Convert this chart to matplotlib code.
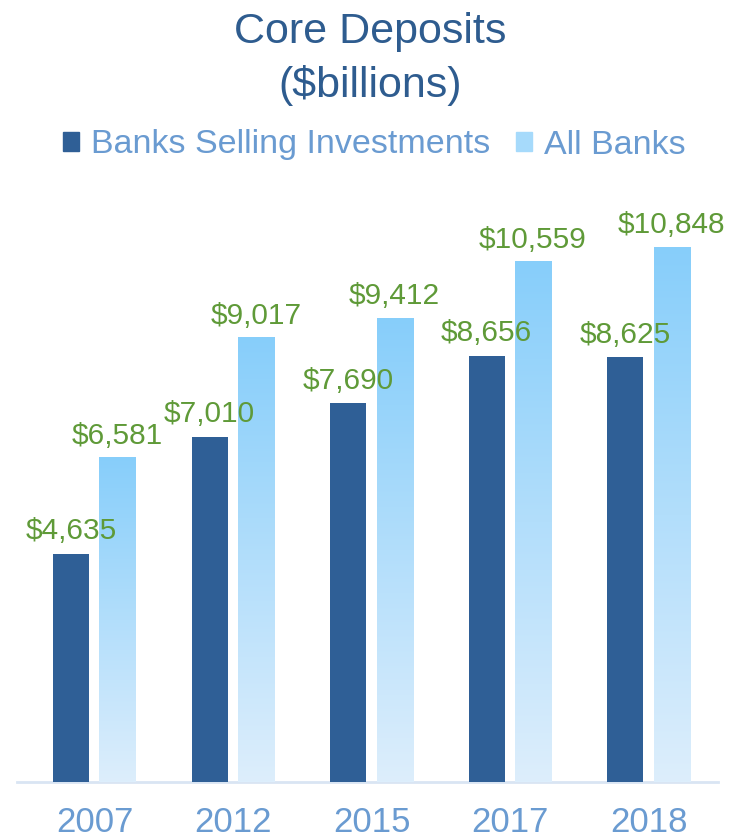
import numpy as np
import matplotlib
matplotlib.use("Agg")
import matplotlib.pyplot as plt
from matplotlib.patches import Patch
from matplotlib.colors import LinearSegmentedColormap

plt.rcParams['font.family'] = ['Liberation Sans', 'DejaVu Sans']

years = ["2007", "2012", "2015", "2017", "2018"]
banks_selling = [4635, 7010, 7690, 8656, 8625]
all_banks = [6581, 9017, 9412, 10559, 10848]
series_names = ["Banks Selling Investments", "All Banks"]

dark = "#2F5F96"
light_top = "#87CEFA"
light_bot = "#DDEEFC"
title_col = "#2E5C8F"
tick_col = "#6A9BD1"
label_col = "#5F9A38"

fig = plt.figure(figsize=(7.44, 8.40), dpi=100)
ax = fig.add_axes([17/744, 58/840, 701/744, 591/840])
ax.set_xlim(-0.56, 4.5)
ax.set_ylim(0, 12000)

x = np.arange(len(years))
w = 0.26
off_d, off_l = -0.17, 0.165

ax.bar(x + off_d, banks_selling, width=w, color=dark, zorder=3)

cmap = LinearSegmentedColormap.from_list("g", [light_bot, light_top])
grad = np.linspace(0, 1, 256).reshape(-1, 1)
for xi, v in zip(x, all_banks):
    ax.imshow(grad, extent=(xi + off_l - w/2, xi + off_l + w/2, 0, v),
              origin='lower', aspect='auto', cmap=cmap, zorder=3)

for xi, v in zip(x, banks_selling):
    ax.annotate(f"${v:,}", (xi + off_d, v), xytext=(0, 6), textcoords='offset points',
                ha='center', va='bottom', color=label_col, fontsize=21.5)
for xi, v in zip(x, all_banks):
    ax.annotate(f"${v:,}", (xi + off_l, v), xytext=(0, 6), textcoords='offset points',
                ha='center', va='bottom', color=label_col, fontsize=21.5)

ax.set_xticks(x)
ax.set_xticklabels(years, color=tick_col, fontsize=25)
ax.tick_params(axis='x', length=0, pad=17)
ax.set_yticks([])
for s in ['top', 'left', 'right']:
    ax.spines[s].set_visible(False)
ax.spines['bottom'].set_color("#D9E5F3")
ax.spines['bottom'].set_linewidth(2)
ax.set_xlim(-0.56, 4.5)

fig.text(0.497, 1 - 32/840, "Core Deposits", ha='center', va='center', color=title_col, fontsize=31)
fig.text(0.497, 1 - 85/840, "($billions)", ha='center', va='center', color=title_col, fontsize=31)

handles = [Patch(color=dark), Patch(color="#A6DAFB")]
leg = fig.legend(handles, series_names, loc='center', bbox_to_anchor=(0.503, 1 - 145/840),
                 ncol=2, frameon=False, fontsize=24.5, handlelength=0.47, handleheight=0.5,
                 handletextpad=0.35, columnspacing=0.75)
for t in leg.get_texts():
    t.set_color(tick_col)

fig.savefig("out.png", dpi=100)
